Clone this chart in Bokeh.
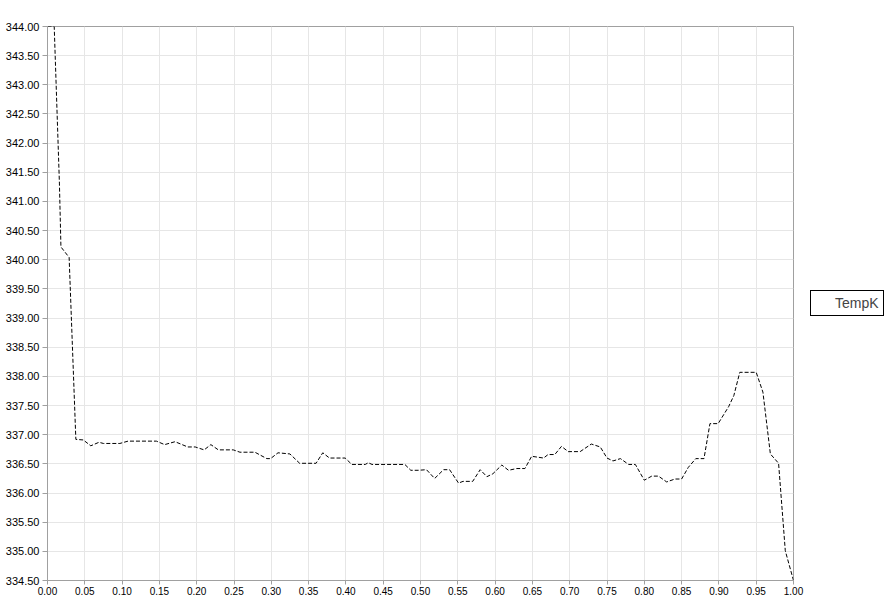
from bokeh.plotting import figure
from bokeh.models import Range1d, FixedTicker, NumeralTickFormatter, Legend, LegendItem
from bokeh.embed import file_html
from bokeh.resources import INLINE

x_vals = [0.0, 0.009, 0.016, 0.018, 0.029, 0.038, 0.048, 0.058, 0.069, 0.075,
          0.097, 0.108, 0.146, 0.157, 0.171, 0.188, 0.198, 0.210, 0.219, 0.229,
          0.249, 0.258, 0.278, 0.294, 0.299, 0.309, 0.325, 0.338, 0.360, 0.369,
          0.378, 0.399, 0.408, 0.426, 0.430, 0.435, 0.479, 0.487, 0.497, 0.508,
          0.519, 0.531, 0.539, 0.551, 0.557, 0.570, 0.580, 0.589, 0.597, 0.609,
          0.618, 0.629, 0.640, 0.649, 0.665, 0.671, 0.680, 0.689, 0.698, 0.714,
          0.729, 0.741, 0.750, 0.758, 0.768, 0.779, 0.788, 0.800, 0.810, 0.819,
          0.830, 0.841, 0.850, 0.859, 0.869, 0.880, 0.888, 0.899, 0.913, 0.920,
          0.928, 0.950, 0.959, 0.969, 0.980, 0.989, 1.0]
temp_k = [344.0, 344.0, 341.3, 340.22, 340.04, 336.92, 336.91, 336.81, 336.87, 336.85,
          336.85, 336.89, 336.89, 336.83, 336.88, 336.79, 336.79, 336.74, 336.83, 336.74,
          336.74, 336.70, 336.70, 336.59, 336.59, 336.69, 336.67, 336.51, 336.51, 336.69,
          336.60, 336.60, 336.49, 336.49, 336.52, 336.49, 336.49, 336.39, 336.39, 336.40,
          336.25, 336.40, 336.40, 336.17, 336.20, 336.20, 336.40, 336.28, 336.33, 336.48,
          336.39, 336.42, 336.42, 336.63, 336.60, 336.66, 336.66, 336.80, 336.71, 336.71,
          336.84, 336.79, 336.60, 336.55, 336.59, 336.49, 336.49, 336.22, 336.29, 336.29,
          336.19, 336.24, 336.24, 336.44, 336.59, 336.59, 337.19, 337.19, 337.48, 337.67,
          338.07, 338.07, 337.73, 336.67, 336.51, 335.01, 334.50]
series_name = "TempK"
x_ticks = [round(i * 0.05, 2) for i in range(21)]
y_ticks = [334.5 + i * 0.5 for i in range(20)]

p = figure(frame_width=746, frame_height=554, output_backend="svg", toolbar_location=None,
           x_range=Range1d(0, 1), y_range=Range1d(334.5, 344.0),
           min_border_left=47, min_border_top=26, min_border_bottom=18, min_border_right=90)

p.line(x_vals, temp_k, line_color="black", line_width=1, line_dash="4 2")
dummy = p.line([0, 0], [334.5, 334.5], line_alpha=0)

p.xaxis.ticker = FixedTicker(ticks=x_ticks)
p.yaxis.ticker = FixedTicker(ticks=y_ticks)
p.xaxis.formatter = NumeralTickFormatter(format="0.00")
p.yaxis.formatter = NumeralTickFormatter(format="0.00")
for ax in (p.xaxis[0], p.yaxis[0]):
    ax.axis_line_color = "#a0a0a0"
    ax.major_tick_line_color = "#a0a0a0"
    ax.major_tick_in = 0
    ax.major_tick_out = 5
    ax.minor_tick_line_color = None
    ax.major_label_text_font = "Liberation Sans"
    ax.major_label_text_color = "black"
    ax.major_label_standoff = 3
p.yaxis.major_label_text_font_size = "11px"
p.xaxis.major_label_text_font_size = "10px"
p.xaxis.major_label_standoff = 2
p.xaxis.major_tick_out = 4

p.grid.grid_line_color = "#e6e6e6"
p.outline_line_color = "#a0a0a0"
p.background_fill_color = "white"
p.border_fill_color = "white"

legend = Legend(items=[LegendItem(label=series_name, renderers=[dummy])],
                location=(17, 264), border_line_color="black", border_line_width=1,
                border_line_alpha=1.0, background_fill_alpha=1.0,
                label_text_font="Liberation Sans", label_text_font_size="14px",
                glyph_width=15, glyph_height=13, label_height=13, padding=4,
                label_standoff=5, margin=0, spacing=0)
p.add_layout(legend, "right")

open("out.html", "w").write(file_html(p, INLINE))
